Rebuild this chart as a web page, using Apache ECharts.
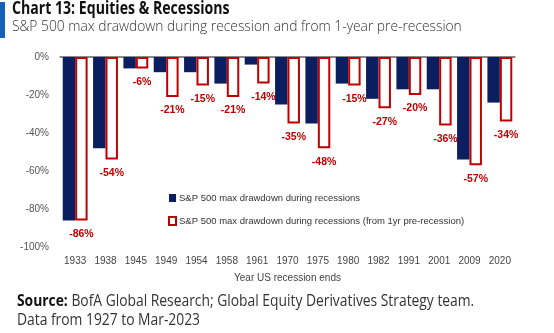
<!DOCTYPE html>
<html><head><meta charset="utf-8">
<script src="https://cdn.jsdelivr.net/npm/echarts@6/dist/echarts.min.js"></script>
<style>html,body{margin:0;padding:0;background:#fff}#c{width:554px;height:333px}</style>
</head><body><div id="c"></div>
<script>
const years = ['1933','1938','1945','1949','1954','1958','1961','1970','1975','1980','1982','1991','2001','2009','2020'];
const duringRecession = [-86,-48,-6,-8,-8,-14,-4,-25,-35,-14,-22,-17,-17,-54,-24];
const fromPreRecession = [-86,-54,-6,-21,-15,-21,-14,-35,-48,-15,-27,-20,-36,-57,-34];

const sans = '"Liberation Sans",Arial,sans-serif';
const chart = echarts.init(document.getElementById('c'));
chart.setOption({
  animation: false,
  graphic: [
    {type:'rect', shape:{x:0,y:2,width:5,height:36}, style:{fill:'#1560bd'}},
    {type:'text', x:12, y:1, scaleX:0.83, style:{text:'Chart 13: Equities & Recessions', font:'bold 17px "Open Sans", sans-serif', fill:'#111'}},
    {type:'text', x:12, y:19, scaleX:0.92, style:{text:'S&P 500 max drawdown during recession and from 1-year pre-recession', font:'300 15px "Open Sans", sans-serif', fill:'#333'}},
    {type:'text', x:17, y:293, scaleX:0.865, style:{rich:{b:{font:'bold 16px "Open Sans", sans-serif', fill:'#111'}, n:{font:'16px "Open Sans", sans-serif', fill:'#333'}}, text:'{b|Source:}{n| BofA Global Research; Global Equity Derivatives Strategy team.}'}},
    {type:'text', x:17, y:312, scaleX:0.865, style:{text:'Data from 1927 to Mar-2023', font:'16px "Open Sans", sans-serif', fill:'#333'}}
  ],
  grid: {left:60, right:39, top:57, bottom:86, containLabel:false},
  legend: {
    orient:'vertical', left:168, top:193, padding:0, itemGap:13, itemWidth:7, itemHeight:8,
    textStyle:{fontFamily:sans, fontSize:9.5, color:'#333', padding:[0,0,0,-2]},
    data:[
      {name:'S&P 500 max drawdown during recessions', icon:'rect'},
      {name:'S&P 500 max drawdown during recessions (from 1yr pre-recession)', icon:'rect'}
    ]
  },
  xAxis: [
    {type:'category', data:years, position:'top',
     axisLine:{show:true, lineStyle:{color:'#666', width:1.5}},
     axisTick:{show:false}, axisLabel:{show:false}},
    {type:'category', data:years, position:'bottom',
     axisLine:{show:false}, axisTick:{show:false},
     axisLabel:{interval:0, color:'#444', fontFamily:sans, fontSize:10, margin:9},
     name:'Year US recession ends', nameLocation:'middle', nameGap:26,
     nameTextStyle:{color:'#444', fontFamily:sans, fontSize:10}}
  ],
  yAxis: {
    type:'value', min:-100, max:0, interval:20,
    axisLine:{show:false}, axisTick:{show:false}, splitLine:{show:false},
    axisLabel:{formatter: v => v + '%', color:'#555', fontFamily:sans, fontSize:10, margin:11}
  },
  series: [
    {name:'S&P 500 max drawdown during recessions', type:'bar', data:duringRecession,
     barGap:'0%', barCategoryGap:'18%', itemStyle:{color:'#0b1f60'}},
    {name:'S&P 500 max drawdown during recessions (from 1yr pre-recession)', type:'bar', data:fromPreRecession,
     itemStyle:{color:'#fff', borderColor:'#c00000', borderWidth:2},
     label:{show:true, position:'bottom', distance:8, formatter: p => p.value + '%', color:'#c00000', fontWeight:'bold', fontFamily:sans, fontSize:10.5}}
  ]
});
</script></body></html>
